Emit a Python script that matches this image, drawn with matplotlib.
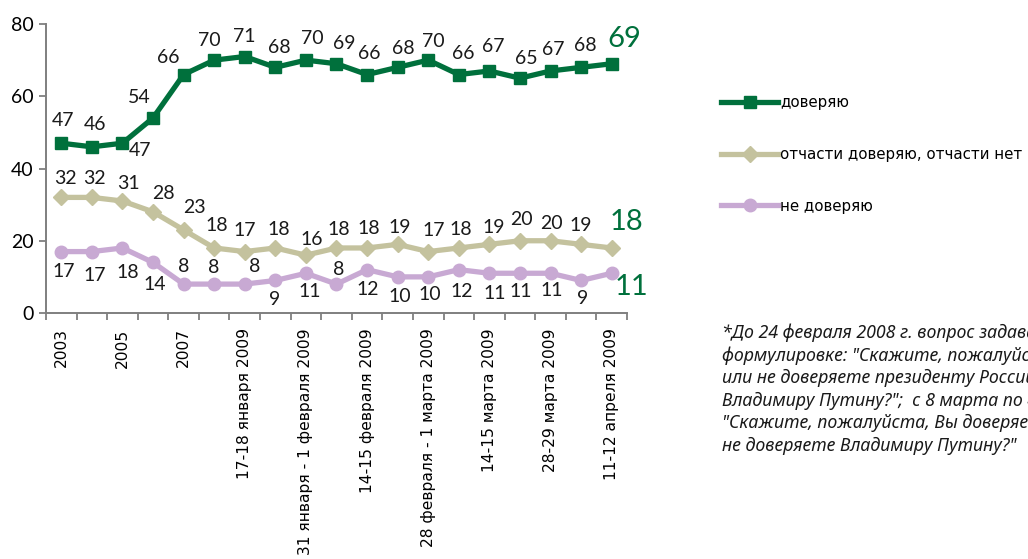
import matplotlib
matplotlib.use("Agg")
import matplotlib.pyplot as plt
from matplotlib import font_manager

# --- data ---
n_points = 19
tick_pos = list(range(0, 19, 2))
tick_labels = ["2003", "2005", "2007", "17-18 января 2009",
               "31 января - 1 февраля 2009", "14-15 февраля 2009",
               "28 февраля - 1 марта 2009", "14-15 марта 2009",
               "28-29 марта 2009", "11-12 апреля 2009"]
trust = [47, 46, 47, 54, 66, 70, 71, 68, 70, 69, 66, 68, 70, 66, 67, 65, 67, 68, 69]
partly = [32, 32, 31, 28, 23, 18, 17, 18, 16, 18, 18, 19, 17, 18, 19, 20, 20, 19, 18]
distrust = [17, 17, 18, 14, 8, 8, 8, 9, 11, 8, 12, 10, 10, 12, 11, 11, 11, 9, 11]
series_names = ["доверяю", "отчасти доверяю, отчасти нет", "не доверяю"]
note_lines = [
    "*До 24 февраля 2008 г. вопрос задавался в",
    "формулировке: \"Скажите, пожалуйста, Вы доверяете",
    "или не доверяете президенту России",
    "Владимиру Путину?\";  с 8 марта по 4 мая 2008 г. –",
    "\"Скажите, пожалуйста, Вы доверяете или",
    "не доверяете Владимиру Путину?\"",
]

# label offsets in pixels (dx, dy up)
off_trust = [(2, 23), (3, 22), (18, -7), (-14, 20), (-15, 17), (-5, 20), (-1, 20),
             (4, 20), (6, 22), (8, 20), (2, 21), (6, 19), (5, 19), (4, 21),
             (4, 24), (6, 20), (3, 21), (4, 22)]
off_partly = [(4, 19), (3, 19), (6, 18), (10, 18), (11, 22), (3, 22), (0, 21),
              (3, 18), (6, 16), (2, 18), (2, 19), (2, 17), (5, 21), (2, 18),
              (4, 17), (1, 21), (1, 17), (0, 19)]
off_distrust = [(2, -20), (3, -24), (5, -25), (2, -22), (0, 18), (0, 17), (10, 18),
                (-1, -19), (4, -18), (2, 15), (1, -20), (2, -20), (2, -18),
                (3, -22), (5, -20), (1, -18), (1, -17), (1, -18)]


def pick(names):
    out = []
    for n in names:
        try:
            font_manager.findfont(n, fallback_to_default=False)
            out.append(n)
        except Exception:
            pass
    return out + ["DejaVu Sans"]


num_font = pick(["Liberation Sans Narrow", "Lato"])
note_font = pick(["Noto Sans", "Open Sans"])

green = "#00703c"
beige = "#c4c29e"
purple = "#c8a9d3"
axis_col = "#7f7f7f"

fig = plt.figure(figsize=(10.28, 5.59), dpi=100)
ax = fig.add_axes([46 / 1028, 246 / 559, 581 / 1028, 289 / 559])

x = list(range(n_points))
l1, = ax.plot(x, trust, color=green, lw=3.8, marker="s", ms=9, label=series_names[0], zorder=3)
l2, = ax.plot(x, partly, color=beige, lw=3.8, marker="D", ms=8, label=series_names[1], zorder=3)
l3, = ax.plot(x, distrust, color=purple, lw=3.8, marker="o", ms=9, label=series_names[2], zorder=3)

for vals, offs in [(trust, off_trust), (partly, off_partly), (distrust, off_distrust)]:
    for i, (v, (dx, dy)) in enumerate(zip(vals[:-1], offs)):
        ax.annotate(str(v), (i, v), xytext=(dx, dy), textcoords="offset pixels",
                    ha="center", va="center", fontsize=14, family=num_font,
                    color="#1a1a1a")

# big last values
for vals, (dx, dy) in [(trust, (-4, 25)), (partly, (-2, 26)), (distrust, (3, -14))]:
    ax.annotate(str(vals[-1]), (n_points - 1, vals[-1]), xytext=(dx, dy),
                textcoords="offset pixels", ha="left", va="center", fontsize=21,
                family=num_font, color=green)

ax.set_xlim(-0.5, n_points - 0.5)
ax.set_ylim(0, 80)
ax.set_yticks([0, 20, 40, 60, 80])
ax.set_yticklabels(["0", "20", "40", "60", "80"], family=num_font, fontsize=14)
ax.set_xticks(tick_pos)
ax.set_xticklabels(tick_labels, rotation=90, fontsize=11.2, va="top", ha="center")
ax.set_xticks([i - 0.5 for i in range(n_points + 1)], minor=True)
ax.tick_params(axis="x", which="major", length=0, pad=11)
ax.tick_params(axis="x", which="minor", length=5, width=1.3, color=axis_col, direction="out")
ax.tick_params(axis="y", length=5, width=1.3, color=axis_col, direction="out", pad=4)
for s in ["top", "right"]:
    ax.spines[s].set_visible(False)
for s in ["left", "bottom"]:
    ax.spines[s].set_color(axis_col)
    ax.spines[s].set_linewidth(1.4)

leg = fig.legend(handles=[l1, l2, l3], loc="upper left",
                 bbox_to_anchor=(721 / 1028, 1 - 95 / 559), frameon=False,
                 fontsize=10.8, handlelength=3.8, handletextpad=0.15,
                 labelspacing=2.45, borderaxespad=0, borderpad=0)

for k, line in enumerate(note_lines):
    fig.text(722 / 1028, 1 - (333 + k * 22.6) / 559, line, fontsize=12.8,
             style="italic", family=note_font, va="center", ha="left", color="#1a1a1a")

fig.savefig("out.png", dpi=100)
